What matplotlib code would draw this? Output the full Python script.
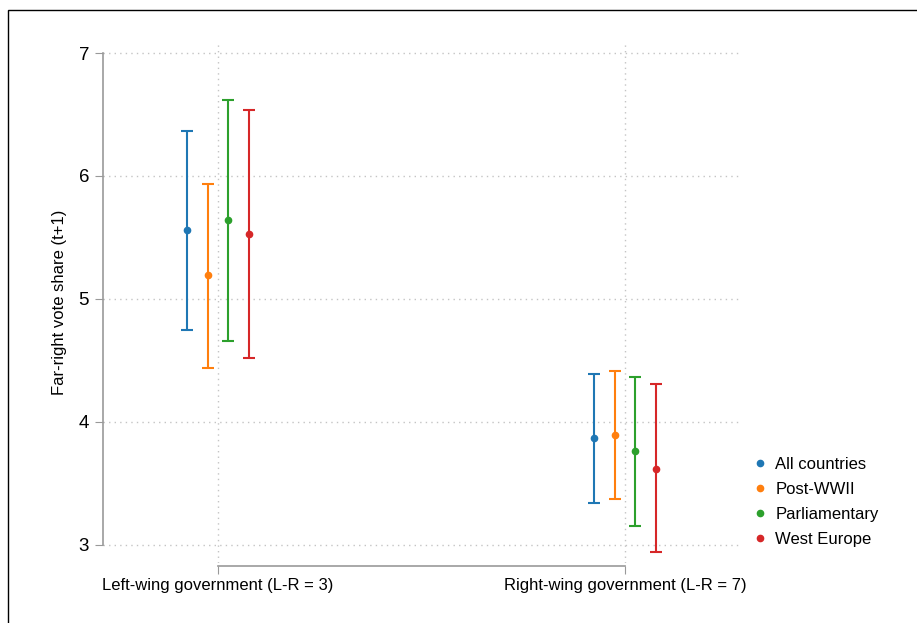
import matplotlib.pyplot as plt
import numpy as np
from matplotlib.patches import Rectangle
from matplotlib.lines import Line2D

plt.rcParams['font.family'] = ['Liberation Sans', 'DejaVu Sans']

# Data
groups = [3, 7]
group_labels = ["Left-wing government (L-R = 3)", "Right-wing government (L-R = 7)"]
series = ["All countries", "Post-WWII", "Parliamentary", "West Europe"]
colors = ["#1f77b4", "#ff7f0e", "#2ca02c", "#d62728"]
offsets = [-0.3, -0.1, 0.1, 0.3]

est = {
    "All countries": [5.558, 3.864],
    "Post-WWII": [5.191, 3.888],
    "Parliamentary": [5.640, 3.758],
    "West Europe": [5.525, 3.619],
}
lo = {
    "All countries": [4.743, 3.342],
    "Post-WWII": [4.434, 3.367],
    "Parliamentary": [4.654, 3.155],
    "West Europe": [4.515, 2.943],
}
hi = {
    "All countries": [6.365, 4.385],
    "Post-WWII": [5.933, 4.409],
    "Parliamentary": [6.617, 4.360],
    "West Europe": [6.536, 4.303],
}

fig = plt.figure(figsize=(9.17, 6.23), dpi=100)
ax = fig.add_axes([0.1123, 0.0963, 0.807 - 0.1123, 0.9326 - 0.0963])

for s, c, off in zip(series, colors, offsets):
    x = np.array(groups) + off
    y = np.array(est[s])
    yerr = np.vstack([y - np.array(lo[s]), np.array(hi[s]) - y])
    ax.errorbar(x, y, yerr=yerr, fmt='o', color=c, ms=4.5, lw=1.5,
                capsize=4.3, capthick=1.5)

ax.set_xlim(1.87, 8.13)
ax.set_ylim(2.85, 7.09)
ax.set_xticks(groups)
ax.set_xticklabels(group_labels)
ax.set_yticks([3, 4, 5, 6, 7])
ax.tick_params(axis='y', labelsize=13.5, length=6, color='#999999', pad=4)
ax.tick_params(axis='x', labelsize=12, length=6, color='#999999', pad=3)
ax.grid(True, linestyle=(0, (1, 3)), color='#c4c4c4', lw=1)
ax.set_axisbelow(True)

for sp in ['top', 'right']:
    ax.spines[sp].set_visible(False)
ax.spines['left'].set_bounds(3, 7)
ax.spines['bottom'].set_bounds(3, 7)
ax.spines['bottom'].set_position(('outward', 2))
for sp in ['left', 'bottom']:
    ax.spines[sp].set_color('#999999')
    ax.spines[sp].set_linewidth(1.2)

ax.set_ylabel("Far-right vote share (t+1)", fontsize=12, labelpad=8)

handles = [Line2D([], [], marker='o', ls='', color=c, ms=4.5) for c in colors]
fig.legend(handles, series, loc='upper left', bbox_to_anchor=(0.802, 0.29),
           frameon=False, fontsize=12, handletextpad=0.3, labelspacing=0.6,
           handlelength=1.2)

fig.patches.append(Rectangle((8 / 917, -0.1), 2, (623 - 10) / 623 + 0.1,
                             transform=fig.transFigure, fill=False,
                             edgecolor='black', lw=1))

fig.savefig("out.png", dpi=100)
